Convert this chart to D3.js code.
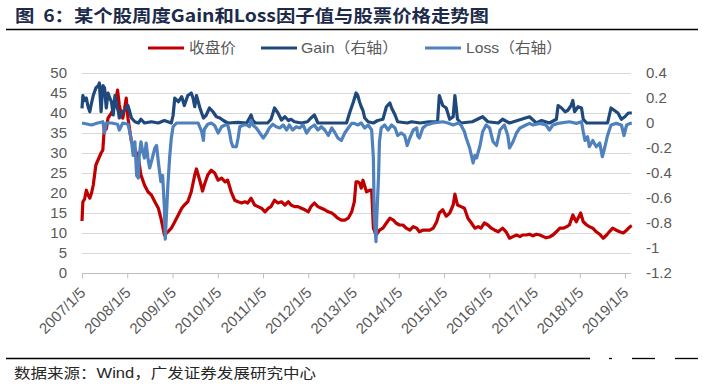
<!DOCTYPE html>
<html><head><meta charset="utf-8">
<script src="https://cdn.jsdelivr.net/npm/d3@7"></script>
<style>body{margin:0;background:#fff;} svg{display:block;}</style>
</head><body>
<svg id="c" width="702" height="387"></svg>
<script>
// ---------- data ----------
const yearLabels = ["2007/1/5","2008/1/5","2009/1/5","2010/1/5","2011/1/5","2012/1/5","2013/1/5","2014/1/5","2015/1/5","2016/1/5","2017/1/5","2018/1/5","2019/1/5"];
const leftTicks = [0,5,10,15,20,25,30,35,40,45,50];
const rightTicks = [0.4,0.2,0,-0.2,-0.4,-0.6,-0.8,-1,-1.2];
const seriesNames = ["收盘价","Gain（右轴）","Loss（右轴）"];
// [week index since 2007/1/5, value]
const closePrice = [[0,13],[1,17.8],[3,18.5],[5,20.7],[7,19.5],[9,18.7],[11,20],[13,22],[16,27],[18,28],[20,29],[22,30],[24,30.7],[26,37],[28,36],[30,38.7],[34,40],[38,42],[41,45.7],[43,42],[45,40],[47,38.7],[49,41],[51,43.7],[53,38.7],[57,32.8],[61,31],[65,28.7],[68,24.5],[72,22],[76,20.3],[80,19.5],[84,17.8],[88,16.2],[91,13.7],[95,9.5],[99,10.3],[103,11.2],[107,12.8],[111,14.5],[115,16.2],[118,17],[122,17.8],[126,20.3],[130,24.5],[132,26],[136,23],[139,20.5],[141,22],[145,24.5],[149,25.7],[153,25],[157,23.2],[161,23.7],[165,22.8],[168,23.2],[172,20.3],[176,18.2],[180,17.8],[184,17.5],[188,17.8],[191,17.5],[195,18.7],[199,17],[203,16.6],[207,16.2],[211,15.3],[215,16.2],[218,16.6],[222,18.2],[226,17.5],[230,17.8],[234,17],[238,17.8],[241,17],[245,16.6],[249,16.6],[253,16.2],[257,15.8],[261,15.3],[264,16.6],[268,17.5],[272,16.6],[276,16.2],[280,15.8],[284,15.3],[288,15],[291,14.5],[295,13.7],[299,13.2],[303,13.2],[307,13.7],[311,15.3],[314,17.8],[316,22.8],[318,22.8],[320,22.5],[322,21.2],[324,23.2],[328,20.3],[332,20.7],[334,20.7],[336,11.2],[339,9.5],[343,10.7],[347,11.2],[351,12.5],[355,13.7],[359,13.2],[362,12.5],[366,12],[370,12],[374,11.2],[378,10.7],[382,11.6],[386,11.2],[389,10.3],[393,10.7],[397,10.7],[401,10.7],[405,11.2],[409,12.8],[412,15],[416,15.8],[420,14.2],[424,15],[428,17],[430,19.7],[433,17],[437,16.6],[441,16.2],[445,13.7],[449,12.5],[453,11.2],[457,11.6],[460,11.2],[464,12.5],[468,12],[472,11.2],[476,10.7],[480,10.3],[482,10.7],[485,11.2],[489,10.3],[493,8.7],[497,9.1],[501,9.5],[505,9.1],[508,9.5],[512,9.5],[516,9.7],[520,9.3],[524,9.7],[528,9.5],[532,9.1],[535,8.8],[539,9],[543,9.5],[547,10.3],[551,11.2],[555,11.2],[559,11.6],[562,12],[566,14.5],[570,12.8],[575,15],[578,12.8],[582,12],[585,11.6],[589,11.2],[593,10.3],[597,9.7],[601,8.7],[605,9.5],[608,10.3],[612,11.2],[616,10.7],[620,10.3],[624,10],[628,10.7],[632,11.6],[634,11.8]];
const gainFactor = [[0,0.117],[1,0.22],[3,0.18],[5,0.2],[7,0.13],[9,0.09],[11,0.16],[13,0.22],[16,0.28],[19,0.3],[20,0.32],[22,0.09],[24,0.3],[26,0.28],[28,0.12],[30,0.24],[32,0.2],[34,0.17],[36,0.064],[38,0.22],[40,0.14],[42,0.09],[43,0.04],[45,0.07],[47,0.09],[51,0.12],[53,0.14],[57,0.04],[61,0.01],[65,0],[68,0.03],[72,0],[80,0.01],[88,0],[95,0.02],[103,0],[105,0.06],[107,0.2],[111,0.17],[115,0.21],[118,0.14],[122,0.22],[126,0.24],[128,0.2],[130,0.13],[132,0.22],[136,0.12],[140,0.04],[143,0.06],[147,0.12],[151,0.09],[155,0.05],[159,0.04],[163,0.02],[168,0],[180,0.005],[190,0],[195,0.064],[197,0.02],[200,0],[214,0],[218,0.03],[222,0.12],[226,0.08],[230,0.024],[234,0.05],[238,0.02],[241,0.03],[245,0.01],[253,0],[260,0.01],[264,0.04],[268,0.064],[272,0],[305,0],[309,0.09],[313,0.17],[316,0.24],[318,0.22],[320,0.17],[322,0.13],[324,0.1],[326,0.04],[330,0.01],[336,0],[341,0.02],[347,0.03],[351,0.13],[355,0.16],[357,0.12],[361,0.064],[364,0.01],[375,0],[380,0.01],[390,0],[400,0.01],[410,0.01],[412,0.22],[416,0.14],[420,0.12],[424,0.03],[428,0.05],[430,0.22],[433,0.03],[437,0],[450,0.01],[462,0.05],[468,0.01],[480,0],[485,0.03],[493,0],[516,0.05],[524,0],[530,0.02],[539,0],[547,0.03],[549,0.14],[553,0.12],[557,0.09],[560,0.1],[564,0.14],[566,0.18],[568,0.09],[572,0.13],[576,0.12],[578,0.03],[582,0],[606,0],[610,0.12],[614,0.1],[618,0.08],[622,0.03],[626,0.05],[630,0.08],[634,0.08]];
const lossFactor = [[0,0],[7,-0.01],[11,-0.016],[18,0],[24,0.01],[26,-0.08],[28,0],[34,0],[41,-0.01],[43,-0.056],[47,0],[53,-0.01],[55,-0.07],[57,-0.14],[59,-0.26],[61,-0.15],[63,-0.42],[65,-0.44],[66,-0.26],[68,-0.15],[70,-0.23],[72,-0.28],[74,-0.16],[76,-0.28],[78,-0.36],[80,-0.31],[84,-0.2],[86,-0.18],[88,-0.31],[90,-0.42],[91,-0.47],[93,-0.42],[95,-0.68],[96,-0.93],[97,-0.79],[99,-0.5],[101,-0.28],[103,-0.12],[105,-0.03],[109,0],[134,0],[138,-0.07],[140,-0.14],[141,-0.05],[145,-0.01],[149,0],[153,-0.02],[157,-0.08],[161,-0.03],[165,-0.016],[168,-0.016],[170,-0.07],[172,-0.15],[174,-0.19],[178,-0.19],[180,-0.12],[182,-0.03],[186,-0.016],[190,-0.016],[193,-0.03],[195,0.02],[197,-0.016],[201,-0.04],[205,-0.08],[209,-0.12],[213,-0.08],[216,-0.04],[220,-0.01],[224,-0.03],[228,-0.04],[232,-0.016],[236,-0.056],[239,-0.016],[243,-0.056],[247,-0.03],[251,-0.04],[255,-0.016],[259,-0.08],[263,-0.04],[268,-0.016],[272,-0.056],[276,-0.03],[280,-0.056],[284,-0.1],[288,-0.04],[291,-0.07],[295,-0.12],[299,-0.14],[303,-0.08],[307,-0.04],[311,-0.003],[314,-0.003],[318,-0.016],[322,0],[326,-0.04],[330,-0.016],[334,-0.056],[336,-0.28],[337,-0.74],[339,-0.95],[340,-0.74],[342,-0.42],[343,-0.15],[345,-0.04],[349,-0.016],[353,-0.056],[357,-0.016],[361,-0.04],[364,-0.1],[368,-0.08],[372,-0.1],[375,-0.18],[378,-0.12],[382,-0.056],[386,-0.04],[387,-0.1],[389,-0.12],[393,-0.04],[397,-0.016],[405,0],[416,0.01],[422,0],[428,-0.016],[434,0],[437,-0.016],[441,-0.07],[443,-0.12],[447,-0.2],[451,-0.32],[453,-0.26],[455,-0.28],[459,-0.18],[462,-0.07],[466,-0.016],[470,-0.04],[474,-0.15],[478,-0.18],[482,-0.056],[487,-0.016],[491,-0.1],[493,-0.2],[497,-0.15],[501,-0.08],[505,-0.04],[508,-0.03],[512,-0.016],[516,-0.003],[520,-0.016],[528,-0.003],[535,-0.016],[539,-0.056],[543,-0.016],[549,-0.003],[562,0.01],[570,-0.003],[576,0.01],[578,-0.07],[580,-0.14],[583,-0.11],[585,-0.19],[589,-0.14],[593,-0.19],[597,-0.16],[600,-0.27],[603,-0.19],[606,-0.1],[610,-0.016],[616,-0.003],[622,-0.016],[625,-0.1],[628,-0.016],[632,-0.003],[634,-0.003]];

// ---------- layout ----------
const svg = d3.select("#c");
const plot = {left:82, right:631, top:73, bottom:273};
const colors = ["#C00000","#1F497D","#4F81BD"];
const grey = "#595959";
const numFont = "'Liberation Sans', Arial, sans-serif";
const cjkFont = "'Liberation Sans', 'Noto Sans CJK SC', sans-serif";

const startDate = new Date(Date.UTC(2007,0,5));
const weekDate = w => new Date(startDate.getTime() + w*7*864e5);
const tickDates = yearLabels.map(s => { const [y,m,d] = s.split('/').map(Number); return new Date(Date.UTC(y,m-1,d)); });

const x = d3.scaleUtc().domain([tickDates[0], tickDates[tickDates.length-1]]).range([plot.left, 625]);
const yL = d3.scaleLinear().domain([0,50]).range([plot.bottom, plot.top]);
const yR = d3.scaleLinear().domain([-1.2,0.4]).range([plot.bottom, plot.top]);

// title
svg.append("text").attr("x",15).attr("y",22)
  .attr("font-family","'Noto Sans CJK SC', sans-serif").attr("font-weight","bold")
  .attr("font-size",17.5).attr("fill","#1c2b4a")
  .attr("textLength",474).attr("lengthAdjust","spacingAndGlyphs")
  .text("图\u00A0\u00A06：某个股周度Gain和Loss因子值与股票价格走势图");
svg.append("line").attr("x1",6).attr("x2",698).attr("y1",29.5).attr("y2",29.5)
  .attr("stroke","#000").attr("stroke-width",1.3);

// legend
const legendItems = [
  {lx:148, tx:189, tw:47},
  {lx:261, tx:301, tw:97},
  {lx:425, tx:466, tw:96}
];
const lg = svg.append("g");
legendItems.forEach((it,i) => {
  lg.append("line").attr("x1",it.lx).attr("x2",it.lx+36).attr("y1",48).attr("y2",48)
    .attr("stroke",colors[i]).attr("stroke-width",3.2);
  lg.append("text").attr("x",it.tx).attr("y",53).attr("font-family",cjkFont)
    .attr("font-size",15).attr("fill",grey)
    .attr("textLength",it.tw).attr("lengthAdjust","spacingAndGlyphs")
    .text(seriesNames[i]);
});

// gridlines
svg.append("g").selectAll("line").data(leftTicks.filter(d=>d>0)).join("line")
  .attr("x1",plot.left).attr("x2",plot.right)
  .attr("y1",d=>Math.round(yL(d))+0.5).attr("y2",d=>Math.round(yL(d))+0.5)
  .attr("stroke","#d9d9d9").attr("stroke-width",1);

// left axis
const gl = svg.append("g").attr("transform",`translate(${plot.left-15},0)`)
  .call(d3.axisLeft(yL).tickValues(leftTicks).tickSize(0).tickPadding(0).tickFormat(d3.format("d")));
gl.select(".domain").remove();
gl.selectAll("text").attr("font-family",numFont).attr("font-size",15).attr("fill",grey);

// right axis
const gr = svg.append("g").attr("transform",`translate(${plot.right+15},0)`)
  .call(d3.axisRight(yR).tickValues(rightTicks).tickSize(0).tickPadding(0).tickFormat(d=>String(d)));
gr.select(".domain").remove();
gr.selectAll("text").attr("font-family",numFont).attr("font-size",15).attr("fill",grey);

// bottom axis
const gb = svg.append("g").attr("transform",`translate(0,${plot.bottom+0.5})`)
  .call(d3.axisBottom(x).tickValues(tickDates).tickSize(5).tickFormat((d,i)=>yearLabels[i]));
gb.select(".domain").attr("d",`M${plot.left},0H${plot.right}`).attr("stroke","#bfbfbf");
gb.selectAll(".tick line").attr("stroke","#bfbfbf");
gb.selectAll("text").attr("font-family",numFont).attr("font-size",15).attr("fill",grey)
  .attr("text-anchor","end").attr("dy",null).attr("y",null)
  .attr("transform","translate(4,20) rotate(-45)");

// series
const lineL = d3.line().x(d=>x(weekDate(d[0]))).y(d=>yL(d[1]));
const lineR = d3.line().x(d=>x(weekDate(d[0]))).y(d=>yR(d[1]));
svg.append("path").datum(closePrice).attr("d",lineL).attr("fill","none")
  .attr("stroke",colors[0]).attr("stroke-width",3.2).attr("stroke-linejoin","round");
svg.append("path").datum(gainFactor).attr("d",lineR).attr("fill","none")
  .attr("stroke",colors[1]).attr("stroke-width",3.2).attr("stroke-linejoin","round");
svg.append("path").datum(lossFactor).attr("d",lineR).attr("fill","none")
  .attr("stroke",colors[2]).attr("stroke-width",3.2).attr("stroke-linejoin","round");

// source
svg.append("g").selectAll("line").data([[6,590],[609,612],[632,655],[675,698]]).join("line")
  .attr("x1",d=>d[0]).attr("x2",d=>d[1]).attr("y1",358.5).attr("y2",358.5)
  .attr("stroke","#000").attr("stroke-width",1.3);
svg.append("text").attr("x",14).attr("y",378).attr("font-family",cjkFont)
  .attr("font-size",14).attr("fill","#262626")
  .attr("textLength",302).attr("lengthAdjust","spacingAndGlyphs")
  .text("数据来源：Wind，广发证券发展研究中心");
</script>
</body></html>
